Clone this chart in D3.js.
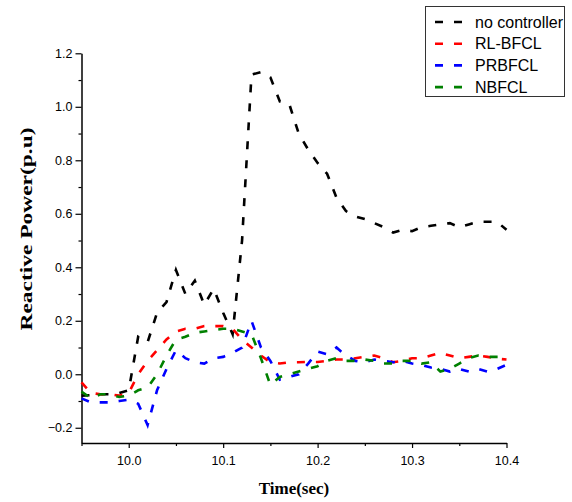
<!DOCTYPE html>
<html><head><meta charset="utf-8">
<script src="https://cdn.jsdelivr.net/npm/d3@7/dist/d3.min.js"></script>
<style>body{margin:0;background:#fff}svg{display:block}</style>
</head><body>
<svg id="c" width="572" height="502"></svg>
<script>
const time = [9.95,9.96,9.97,9.98,9.99,10.00,10.01,10.02,10.03,10.04,10.05,10.06,10.07,10.08,10.09,10.10,
  10.11,10.12,10.13,10.14,10.15,10.16,10.17,10.18,10.19,10.20,10.21,10.22,10.23,10.24,10.25,10.26,10.27,10.28,
  10.29,10.30,10.31,10.32,10.33,10.34,10.35,10.36,10.37,10.38,10.39,10.40];
const noController = [-0.08,-0.078,-0.075,-0.075,-0.07,-0.06,0.14,0.12,0.23,0.27,0.39,0.30,0.35,0.26,0.32,0.23,
  0.15,0.50,1.12,1.13,1.11,1.02,1.01,0.90,0.84,0.79,0.75,0.66,0.61,0.59,0.58,0.565,0.55,0.53,
  0.54,0.535,0.55,0.555,0.56,0.565,0.55,0.56,0.57,0.57,0.57,0.54];
const rlBfcl = [-0.03,-0.07,-0.075,-0.075,-0.08,-0.07,0.0,0.05,0.09,0.13,0.16,0.17,0.17,0.18,0.18,0.18,
  0.17,0.13,0.10,0.07,0.045,0.04,0.045,0.045,0.046,0.046,0.05,0.055,0.055,0.06,0.065,0.07,0.06,0.045,
  0.05,0.06,0.06,0.07,0.08,0.07,0.06,0.065,0.07,0.065,0.058,0.055];
const prBfcl = [-0.09,-0.105,-0.105,-0.105,-0.1,-0.095,-0.11,-0.19,-0.06,0.02,0.09,0.06,0.045,0.04,0.06,0.065,
  0.08,0.10,0.20,0.10,0.05,-0.02,-0.01,0.0,0.04,0.085,0.075,0.10,0.07,0.05,0.045,0.055,0.05,0.045,
  0.05,0.04,0.035,0.025,0.02,0.01,0.02,0.01,0.02,0.01,0.02,0.035];
const nBfcl = [-0.065,-0.09,-0.075,-0.075,-0.085,-0.08,-0.06,-0.05,0.0,0.07,0.13,0.14,0.155,0.16,0.165,0.17,
  0.17,0.16,0.15,0.06,-0.04,-0.01,0.0,0.01,0.02,0.03,0.05,0.06,0.05,0.05,0.055,0.05,0.04,0.04,
  0.05,0.05,0.04,0.045,0.01,0.02,0.04,0.06,0.07,0.065,0.065,0.065];
const seriesNames = ["no controller","RL-BFCL","PRBFCL","NBFCL"];
const seriesColors = ["#000000","#ff0000","#0000ff","#008000"];
const seriesValues = [noController, rlBfcl, prBfcl, nBfcl];
const xTicks = [10.0,10.1,10.2,10.3,10.4];
const yTicks = [-0.2,0.0,0.2,0.4,0.6,0.8,1.0,1.2];

const svg = d3.select("#c");
const x = d3.scaleLinear().domain([9.95,10.4]).range([81.5,506.5]);
const y = d3.scaleLinear().domain([-0.257,1.2]).range([443,53.3]);

// minor ticks
const xMinor = d3.range(9.95,10.4001,0.05).filter(v=>Math.abs(Math.round(v*10)-v*10)>0.01);
const yMinor = d3.range(-0.1,1.2,0.2);

const gx = svg.append("g").attr("transform","translate(0,443)")
  .call(d3.axisBottom(x).tickValues(xTicks).tickFormat(d3.format(".1f")).tickSize(5).tickSizeOuter(0));
svg.append("g").attr("transform","translate(0,443)")
  .call(d3.axisBottom(x).tickValues(xMinor).tickFormat("").tickSize(3).tickSizeOuter(0))
  .select(".domain").remove();
const gy = svg.append("g").attr("transform","translate(81.5,0)")
  .call(d3.axisLeft(y).tickValues(yTicks).tickFormat(d3.format(".1f")).tickSize(6).tickSizeOuter(0));
svg.append("g").attr("transform","translate(81.5,0)")
  .call(d3.axisLeft(y).tickValues(yMinor).tickFormat("").tickSize(3).tickSizeOuter(0))
  .select(".domain").remove();
svg.selectAll(".domain").attr("stroke","#000").attr("stroke-width",1.5);
svg.selectAll(".tick line").attr("stroke","#000").attr("stroke-width",1.2);
gx.selectAll("text").attr("font-family","Liberation Sans, Arial, sans-serif").attr("font-size",12.5).attr("fill","#000").attr("dy","1.15em");
gy.selectAll("text").attr("font-family","Liberation Sans, Arial, sans-serif").attr("font-size",12.5).attr("fill","#000").attr("x",-9);

// axis titles
svg.append("text").attr("x",294).attr("y",494).attr("text-anchor","middle")
  .attr("font-family","Liberation Serif, Times New Roman, serif").attr("font-weight","bold").attr("font-size",17)
  .text("Time(sec)");
svg.append("text").attr("transform","translate(32,229) rotate(-90)").attr("text-anchor","middle")
  .attr("font-family","Liberation Serif, Times New Roman, serif").attr("font-weight","bold").attr("font-size",17)
  .attr("textLength",203).attr("lengthAdjust","spacingAndGlyphs")
  .text("Reactive Power(p.u)");

// lines
const line = d3.line().x((d,i)=>x(time[i])).y(d=>y(d));
seriesValues.forEach((vals,k)=>{
  svg.append("path").datum(vals).attr("d",line).attr("fill","none")
    .attr("stroke",seriesColors[k]).attr("stroke-width",2.6).attr("stroke-dasharray","8,11");
});

// legend
const lg = svg.append("g");
lg.append("rect").attr("x",425.5).attr("y",6.5).attr("width",139).attr("height",90)
  .attr("fill","#fff").attr("stroke","#333").attr("stroke-width",1);
seriesNames.forEach((n,k)=>{
  const yy = 22 + k*21.7;
  lg.append("line").attr("x1",435).attr("x2",462).attr("y1",yy).attr("y2",yy)
    .attr("stroke",seriesColors[k]).attr("stroke-width",2.6).attr("stroke-dasharray","8,11");
  lg.append("text").attr("x",475).attr("y",yy).attr("dy","0.36em")
    .attr("font-family","Liberation Sans, Arial, sans-serif").attr("font-size",16).text(n);
});
</script>
</body></html>
